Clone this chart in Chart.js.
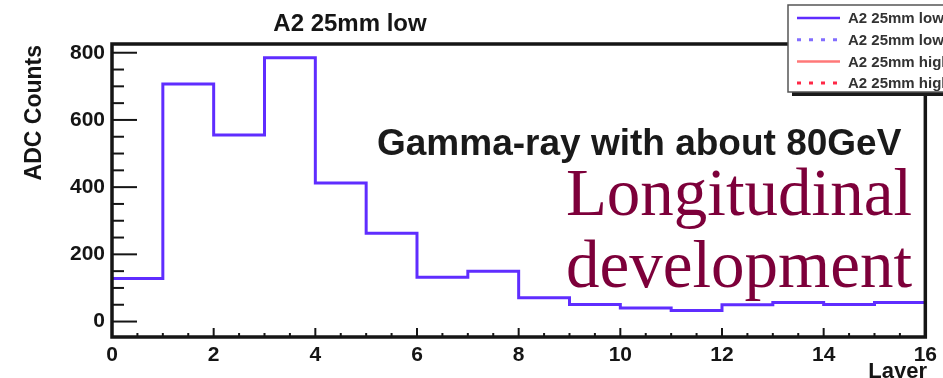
<!DOCTYPE html>
<html>
<head>
<meta charset="utf-8">
<script src="https://cdn.jsdelivr.net/npm/chart.js@4.4.1/dist/chart.umd.min.js"></script>
<style>
  html, body { margin: 0; padding: 0; background: #fff; }
  #wrap { width: 943px; height: 378px; position: relative; }
</style>
</head>
<body>
<div id="wrap"><canvas id="layers"></canvas></div>
<script>
// Data
const layers = [0, 1, 2, 3, 4, 5, 6, 7, 8, 9, 10, 11, 12, 13, 14, 15];
const adcCounts = [128, 707, 555, 785, 412, 263, 132, 150, 71, 51, 40, 33, 50, 57, 51, 57];
const lastLayerEdge = 16;
const xTickValues = [0, 2, 4, 6, 8, 10, 12, 14, 16];
const yTickValues = [0, 200, 400, 600, 800];
const legendLabels = ['A2 25mm low', 'A2 25mm low', 'A2 25mm high', 'A2 25mm high'];

// Constants
const SANS = '"Liberation Sans", Arial, sans-serif';
const SERIF = '"Liberation Serif", "Times New Roman", serif';
const INK = '#151515';
const BLUE = 'rgb(95, 45, 255)';

// Histogram points: each bin starts at its lower edge, the last one closes at 16
const histPoints = () => {
  const pts = layers.map((x, i) => ({ x, y: adcCounts[i] }));
  pts.push({ x: lastLayerEdge, y: adcCounts[adcCounts.length - 1] });
  return pts;
};

// Frame, inward ticks and the texts drawn on top of the plot
const framePlugin = {
  id: 'rootFrame',
  afterDatasetsDraw(chart) {
    const { ctx, chartArea: a, scales: { x, y } } = chart;
    ctx.save();
    ctx.strokeStyle = INK;

    // minor / major ticks on the y axis
    ctx.lineWidth = 2;
    for (let v = 0; v <= 800; v += 50) {
      const py = y.getPixelForValue(v);
      const len = v % 200 === 0 ? 25 : 12;
      ctx.beginPath();
      ctx.moveTo(a.left, py);
      ctx.lineTo(a.left + len, py);
      ctx.stroke();
    }
    // ticks on the x axis
    for (let v = 0; v <= 16; v += 0.5) {
      const px = x.getPixelForValue(v);
      const len = v % 2 === 0 ? 9 : 4;
      ctx.beginPath();
      ctx.moveTo(px, a.bottom);
      ctx.lineTo(px, a.bottom - len);
      ctx.stroke();
    }

    // frame
    ctx.lineWidth = 3.5;
    ctx.strokeRect(a.left, a.top, a.right - a.left, a.bottom - a.top);

    // titles
    ctx.fillStyle = INK;
    ctx.font = `bold 24px ${SANS}`;
    ctx.textAlign = 'center';
    ctx.textBaseline = 'alphabetic';
    ctx.fillText('A2 25mm low', 350, 31);

    ctx.font = `bold 22px ${SANS}`;
    ctx.textAlign = 'right';
    ctx.fillText('Layer', 927, 378);

    ctx.save();
    ctx.font = `bold 23px ${SANS}`;
    ctx.translate(41, 45);
    ctx.rotate(-Math.PI / 2);
    ctx.textAlign = 'right';
    ctx.fillText('ADC Counts', 0, 0);
    ctx.restore();

    // annotations
    ctx.textAlign = 'left';
    ctx.font = `bold 37px ${SANS}`;
    ctx.fillStyle = '#1a1a1a';
    ctx.fillText('Gamma-ray with about 80GeV', 377, 155);

    ctx.textAlign = 'right';
    ctx.font = `67px ${SERIF}`;
    ctx.fillStyle = 'rgb(125, 0, 58)';
    ctx.fillText('Longitudinal', 912, 215);
    ctx.fillText('development', 912, 287);

    ctx.restore();
  }
};

// ROOT style legend box, built from the datasets
const legendPlugin = {
  id: 'rootLegend',
  afterDraw(chart) {
    const { ctx } = chart;
    const bx = 788, by = 5, bw = 170, bh = 87;
    ctx.save();
    ctx.fillStyle = '#1a1a1a';
    ctx.fillRect(bx + 4, by + 4, bw, bh);
    ctx.fillStyle = '#fff';
    ctx.fillRect(bx, by, bw, bh);
    ctx.strokeStyle = '#555';
    ctx.lineWidth = 1.5;
    ctx.strokeRect(bx, by, bw, bh);

    chart.data.datasets.forEach((ds, i) => {
      const ly = 18 + i * 21.7;
      ctx.strokeStyle = ds.borderColor;
      ctx.lineWidth = ds.borderDash ? 3 : 2.5;
      ctx.setLineDash(ds.borderDash || []);
      ctx.beginPath();
      ctx.moveTo(797, ly);
      ctx.lineTo(840, ly);
      ctx.stroke();
      ctx.setLineDash([]);
      ctx.fillStyle = '#333';
      ctx.font = `bold 15px ${SANS}`;
      ctx.textBaseline = 'middle';
      ctx.textAlign = 'left';
      ctx.fillText(ds.label, 848, ly + 1);
    });
    ctx.restore();
  }
};

const createChart = () => {
  const el = document.getElementById('layers');
  return new Chart(el, {
    type: 'line',
    data: {
      datasets: [
        {
          label: legendLabels[0],
          data: histPoints(),
          stepped: 'before',
          borderColor: BLUE,
          borderWidth: 3,
          pointRadius: 0,
          fill: false
        },
        { label: legendLabels[1], data: [], borderColor: 'rgb(130, 110, 255)', borderDash: [4, 8] },
        { label: legendLabels[2], data: [], borderColor: 'rgb(255, 120, 120)' },
        { label: legendLabels[3], data: [], borderColor: 'rgb(255, 40, 70)', borderDash: [4, 8] }
      ]
    },
    options: {
      responsive: true,
      maintainAspectRatio: false,
      animation: false,
      layout: { padding: { left: 0, right: 12, top: 44, bottom: 0 } },
      plugins: {
        legend: { display: false },
        tooltip: { enabled: false }
      },
      scales: {
        x: {
          type: 'linear',
          min: 0,
          max: lastLayerEdge,
          afterBuildTicks: (s) => { s.ticks = xTickValues.map(value => ({ value })); },
          afterFit: (s) => { s.height = 41; },
          grid: { display: false, drawTicks: false },
          border: { display: false },
          ticks: {
            padding: 6,
            maxRotation: 0,
            autoSkip: false,
            color: INK,
            font: { family: SANS, size: 21, weight: 'bold' }
          }
        },
        y: {
          type: 'linear',
          min: -46,
          max: 826,
          afterBuildTicks: (s) => { s.ticks = yTickValues.map(value => ({ value })); },
          afterFit: (s) => { s.width = 112; },
          grid: { display: false, drawTicks: false },
          border: { display: false },
          ticks: {
            padding: 7,
            color: INK,
            font: { family: SANS, size: 21, weight: 'bold' }
          }
        }
      }
    },
    plugins: [framePlugin, legendPlugin]
  });
};

document.addEventListener('DOMContentLoaded', () => {
  try {
    createChart();
  } catch (error) {
    console.error('Chart initialization failed:', error);
  }
});
</script>
</body>
</html>
